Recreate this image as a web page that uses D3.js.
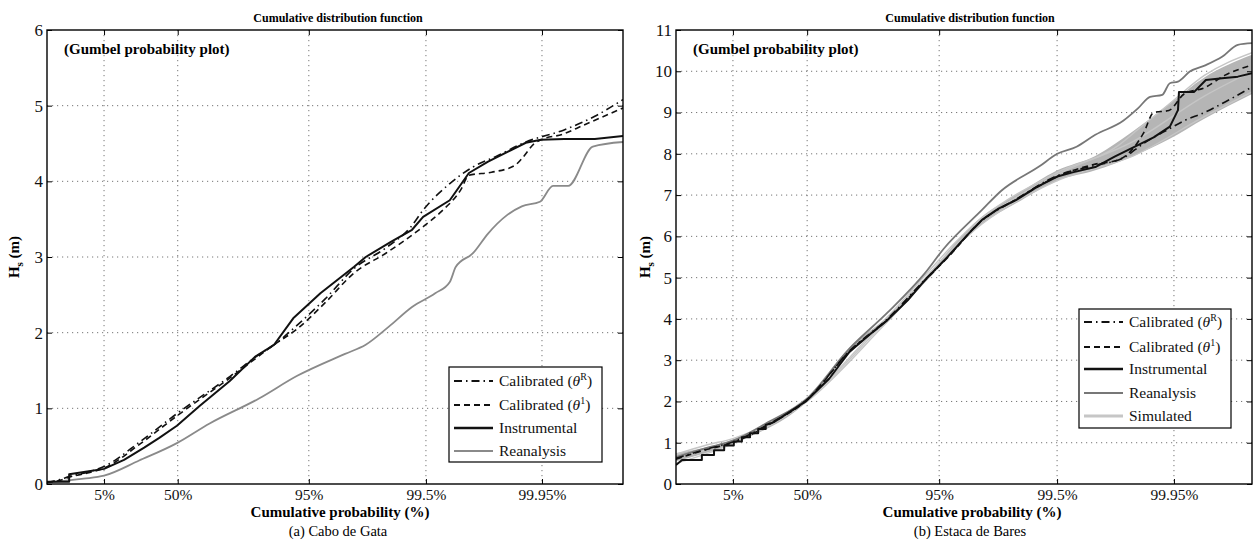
<!DOCTYPE html>
<html><head><meta charset="utf-8">
<script src="https://cdn.jsdelivr.net/npm/d3@7"></script>
<style>
html,body{margin:0;padding:0;background:#fff;}
svg{display:block;font-family:"Liberation Serif","Times New Roman",serif;}
svg text{font-family:"Liberation Serif","Times New Roman",serif;}
</style></head>
<body><svg id="chart" width="1253" height="546"></svg>
<script>
// ---------- tick definitions ----------
const xTickProbs = [0.05, 0.5, 0.95, 0.995, 0.9995];
const xTickLabels = ["5%", "50%", "95%", "99.5%", "99.95%"];
const leftYTicks = [0, 1, 2, 3, 4, 5, 6];
const rightYTicks = [0, 1, 2, 3, 4, 5, 6, 7, 8, 9, 10, 11];

// ---------- data: [Gumbel reduced variate, Hs (m)] ----------
// (a) Cabo de Gata
const leftCalR = [[-2.23,0.02],[-1.97,0.06],[-1.79,0.1],[-1.4,0.16],[-1.097,0.23],[-0.38,0.56],[0.35,0.93],[1.4,1.42],[2.0,1.72],[2.28,1.84],[2.74,2.1],[3.3,2.45],[3.87,2.85],[4.5,3.12],[5.0,3.4],[5.24,3.62],[5.77,3.97],[6.23,4.19],[6.69,4.33],[7.28,4.52],[8.04,4.68],[8.65,4.86],[9.21,5.08]];
const leftCal1 = [[-2.23,0.02],[-1.97,0.05],[-1.79,0.09],[-1.4,0.15],[-1.097,0.21],[-0.38,0.53],[0.35,0.9],[1.4,1.4],[2.28,1.84],[2.74,2.05],[3.3,2.4],[3.87,2.79],[4.5,3.05],[5.2,3.38],[5.6,3.6],[5.99,3.89],[6.15,4.08],[6.6,4.12],[7.06,4.21],[7.2,4.3],[7.45,4.5],[7.58,4.55],[8.0,4.62],[8.42,4.74],[8.8,4.85],[9.21,4.97]];
const leftInstr = [[-2.23,0.03],[-1.79,0.03],[-1.79,0.13],[-1.4,0.17],[-1.097,0.2],[-0.7,0.32],[-0.3,0.48],[0.0,0.61],[0.35,0.77],[0.8,1.03],[1.4,1.36],[1.9,1.68],[2.28,1.84],[2.66,2.19],[3.2,2.52],[3.87,2.87],[4.1,3.0],[4.6,3.2],[5.02,3.36],[5.24,3.53],[5.77,3.75],[6.15,4.11],[6.53,4.26],[6.98,4.41],[7.28,4.51],[7.58,4.55],[8.04,4.56],[8.65,4.56],[9.21,4.6]];
const leftReanalysis = [[-2.23,0.02],[-1.5,0.07],[-1.097,0.11],[-0.4,0.31],[0.35,0.54],[1.0,0.8],[1.98,1.13],[2.74,1.43],[3.69,1.72],[4.1,1.84],[4.56,2.08],[5.02,2.34],[5.48,2.52],[5.77,2.67],[5.89,2.87],[6.23,3.05],[6.53,3.31],[6.9,3.55],[7.2,3.67],[7.56,3.73],[7.82,3.94],[8.12,3.94],[8.61,4.46],[9.21,4.52]];

// (b) Estaca de Bares
const rightCalR = [[-2.22,0.62],[-1.6,0.85],[-1.097,1.02],[-0.4,1.45],[0.367,2.05],[1.2,3.22],[1.95,4.0],[2.69,4.95],[3.14,5.5],[3.815,6.38],[4.485,6.9],[5.3,7.47],[6.05,7.72],[6.6,7.9],[7.0,8.25],[7.5,8.6],[7.8,8.8],[8.2,9.0],[8.6,9.25],[9.14,9.62]];
const rightCal1 = [[-2.22,0.6],[-1.6,0.84],[-1.097,1.0],[-0.4,1.43],[0.367,2.04],[1.2,3.21],[1.95,3.98],[2.69,4.93],[3.14,5.49],[3.815,6.39],[4.485,6.89],[5.3,7.45],[6.05,7.75],[6.5,7.85],[7.0,8.5],[7.2,9.0],[7.5,9.05],[7.8,9.45],[8.2,9.6],[8.6,9.9],[9.14,10.15]];
const rightInstr = [[-2.22,0.46],[-2.1,0.58],[-1.71,0.58],[-1.71,0.7],[-1.47,0.7],[-1.47,0.82],[-1.27,0.82],[-1.27,0.93],[-1.08,0.93],[-1.08,1.03],[-0.92,1.03],[-0.92,1.13],[-0.76,1.13],[-0.76,1.23],[-0.6,1.23],[-0.6,1.33],[-0.45,1.33],[-0.45,1.43],[-0.29,1.5],[0.34,2.0],[0.8,2.55],[1.2,3.2],[1.6,3.62],[1.95,3.97],[2.35,4.45],[2.69,4.94],[3.14,5.51],[3.5,6.0],[3.815,6.4],[4.15,6.68],[4.485,6.88],[4.9,7.2],[5.3,7.45],[5.6,7.55],[6.05,7.68],[6.43,7.93],[7.2,8.4],[7.52,8.66],[7.68,9.06],[7.7,9.5],[8.0,9.5],[8.23,9.79],[8.55,9.83],[8.86,9.87],[9.14,9.95]];
const rightReanalysis = [[-2.22,0.65],[-1.6,0.88],[-1.097,1.05],[-0.4,1.5],[0.367,2.07],[1.2,3.28],[1.95,4.15],[2.69,5.11],[3.06,5.7],[3.815,6.64],[4.19,7.1],[4.94,7.69],[5.3,8.0],[5.68,8.17],[6.05,8.46],[6.6,8.8],[6.89,9.1],[7.13,9.38],[7.37,9.43],[7.52,9.71],[7.68,9.75],[7.92,10.0],[8.23,10.15],[8.55,10.35],[8.86,10.64],[9.14,10.68]];
const rightSimA = [[-2.22,0.72],[-1.6,0.95],[-1.097,1.1],[0.367,2.08],[1.95,4.05],[3.815,6.45],[5.3,7.55],[6.5,8.2],[6.9,8.6],[7.5,9.2],[8.2,9.9],[9.14,10.45]];
const rightSimB = [[-2.22,0.5],[-1.097,0.98],[0.367,2.0],[1.95,3.93],[3.815,6.3],[5.3,7.35],[6.8,7.95],[8.2,8.9],[9.14,9.5]];
const rightSimC = [[-2.22,0.64],[-1.097,1.04],[0.367,2.04],[1.95,3.99],[3.815,6.37],[5.3,7.5],[6.8,8.3],[8.2,9.4],[9.14,10.0]];
const bandU    = [-2.22,-1.097,0.367,1.2,1.95,2.69,3.815,4.485,5.3,6.05,6.8,7.5,8.2,9.14];
const bandLow  = [0.55,0.98,2.0,3.17,3.93,4.88,6.3,6.8,7.35,7.6,7.95,8.35,8.85,9.45];
const bandHigh = [0.75,1.08,2.1,3.3,4.05,5.0,6.48,7.0,7.6,7.95,8.55,9.2,9.85,10.4];

// ---------- helpers ----------
const gumbel = p => -Math.log(-Math.log(p));
const svg = d3.select("#chart");
svg.append("rect").attr("width",1253).attr("height",546).attr("fill","#fff");
const FONT = '"Liberation Serif","Times New Roman",serif';

const STY = {
  calR:  {stroke:"#111", width:1.6, dash:"8,4,1.5,4"},
  cal1:  {stroke:"#111", width:1.6, dash:"6,4"},
  instr: {stroke:"#111", width:2.0, dash:null},
  reanL: {stroke:"#8a8a8a", width:1.8, dash:null},
  reanR: {stroke:"#777", width:1.8, dash:null},
  sim:   {stroke:"#c6c6c6", width:1.4, dash:null}
};

function panel(cfg) {
  const x = d3.scaleLinear().domain(cfg.uDomain).range([cfg.x0, cfg.x1]);
  const y = d3.scaleLinear().domain([0, cfg.yMax]).range([484, 30]);
  const g = svg.append("g");
  const clipId = "clip" + cfg.id;
  svg.append("clipPath").attr("id", clipId).append("rect")
    .attr("x", cfg.x0).attr("y", 30).attr("width", cfg.x1 - cfg.x0).attr("height", 454);

  // grid
  const grid = g.append("g").attr("stroke","#666").attr("stroke-width",0.9).attr("stroke-dasharray","1.2,3.8");
  cfg.yTicks.slice(1, -1).forEach(v => grid.append("line").attr("x1",cfg.x0).attr("x2",cfg.x1).attr("y1",y(v)).attr("y2",y(v)));
  xTickProbs.forEach(p => grid.append("line").attr("x1",x(gumbel(p))).attr("x2",x(gumbel(p))).attr("y1",30).attr("y2",484));

  const plot = g.append("g").attr("clip-path", `url(#${clipId})`);
  const smooth = d3.line().x(d => x(d[0])).y(d => y(d[1])).curve(d3.curveMonotoneX);
  const linear = d3.line().x(d => x(d[0])).y(d => y(d[1]));

  if (cfg.band) {
    const area = d3.area().x(d => x(d.u)).y0(d => y(d.lo)).y1(d => y(d.hi)).curve(d3.curveMonotoneX);
    const bd = bandU.map((u,i) => ({u, lo: bandLow[i], hi: bandHigh[i]}));
    plot.append("path").datum(bd).attr("d", area).attr("fill","#b5b5b5");
  }
  cfg.series.forEach(s => {
    const st = STY[s.style];
    plot.append("path").datum(s.data).attr("d", s.step ? linear : smooth)
      .attr("fill","none").attr("stroke", st.stroke).attr("stroke-width", st.width)
      .attr("stroke-dasharray", st.dash).attr("stroke-linejoin","round");
  });

  // frame
  g.append("rect").attr("x",cfg.x0).attr("y",30).attr("width",cfg.x1-cfg.x0).attr("height",454)
    .attr("fill","none").attr("stroke","#000").attr("stroke-width",1.4);

  // axes via d3 axis (inner ticks)
  const xAxis = d3.axisBottom(x).tickValues(xTickProbs.map(gumbel))
    .tickFormat((d,i) => xTickLabels[i]).tickSizeInner(-5).tickSizeOuter(0).tickPadding(5);
  const gx = g.append("g").attr("transform","translate(0,484)").call(xAxis);
  gx.attr("font-family", FONT);
  gx.select(".domain").remove();
  gx.selectAll("text").attr("font-family",FONT).attr("font-size",15.5).attr("fill","#111");
  gx.selectAll("line").attr("stroke","#000");
  const xTop = d3.axisTop(x).tickValues(xTickProbs.map(gumbel)).tickFormat("").tickSizeInner(-5).tickSizeOuter(0);
  const gxt = g.append("g").attr("transform","translate(0,30)").call(xTop);
  gxt.select(".domain").remove();

  const yAxis = d3.axisLeft(y).tickValues(cfg.yTicks).tickFormat(d3.format("d")).tickSizeInner(-5).tickSizeOuter(0).tickPadding(4);
  const gy = g.append("g").attr("transform",`translate(${cfg.x0},0)`).call(yAxis);
  gy.attr("font-family", FONT);
  gy.select(".domain").remove();
  gy.selectAll("text").attr("font-family",FONT).attr("font-size",17).attr("fill","#111");
  const yRight = d3.axisRight(y).tickValues(cfg.yTicks).tickFormat("").tickSizeInner(-5).tickSizeOuter(0);
  const gyr = g.append("g").attr("transform",`translate(${cfg.x1},0)`).call(yRight);
  gyr.select(".domain").remove();

  // texts
  g.append("text").attr("x",cfg.titleX).attr("y",22).attr("text-anchor","middle")
    .attr("font-weight","bold").attr("font-size",12).attr("font-family",FONT).text("Cumulative distribution function");
  g.append("text").attr("x",cfg.x0+17).attr("y",54)
    .attr("font-weight","bold").attr("font-size",15).attr("font-family",FONT).text("(Gumbel probability plot)");
  g.append("text").attr("x",cfg.titleX+2).attr("y",517).attr("text-anchor","middle")
    .attr("font-weight","bold").attr("font-size",15).attr("font-family",FONT).text("Cumulative probability (%)");
  g.append("text").attr("x",cfg.titleX).attr("y",536).attr("text-anchor","middle")
    .attr("font-size",14.5).attr("font-family",FONT).text(cfg.caption);
  const yl = g.append("text").attr("transform",`translate(${cfg.yLabelX},257) rotate(-90)`)
    .attr("text-anchor","middle").attr("font-weight","bold").attr("font-size",15).attr("font-family",FONT);
  yl.append("tspan").text("H");
  yl.append("tspan").attr("font-size",11).attr("dy",4).text("s");
  yl.append("tspan").attr("dy",-4).text(" (m)");

  // legend
  const L = cfg.legend;
  const lg = g.append("g");
  lg.append("rect").attr("x",L.x).attr("y",L.y).attr("width",L.w).attr("height",L.h)
    .attr("fill","#fff").attr("stroke","#000").attr("stroke-width",1.2);
  L.items.forEach((it, i) => {
    const yy = L.rows[i];
    const st = STY[it.style];
    lg.append("line").attr("x1",L.x+5).attr("x2",L.x+44).attr("y1",yy).attr("y2",yy)
      .attr("stroke",st.stroke).attr("stroke-width", it.style==="sim"?3:st.width+0.4).attr("stroke-dasharray",st.dash);
    const t = lg.append("text").attr("x",L.x+50).attr("y",yy+5).attr("font-size",15.5).attr("font-family",FONT).attr("fill","#111");
    if (it.sup) {
      t.append("tspan").text("Calibrated (");
      t.append("tspan").attr("font-style","italic").text("\u03B8");
      t.append("tspan").attr("font-size",10).attr("dy",-6).text(it.sup);
      t.append("tspan").attr("dy",6).text(")");
    } else t.text(it.label);
  });
}

panel({
  id:"L", x0:47, x1:623, uDomain:[-2.23, 9.21], yMax:6, yTicks:leftYTicks,
  titleX:338, caption:"(a) Cabo de Gata", yLabelX:19,
  series:[
    {data:leftReanalysis, style:"reanL"},
    {data:leftInstr, style:"instr", step:true},
    {data:leftCal1, style:"cal1"},
    {data:leftCalR, style:"calR"}
  ],
  legend:{x:449, y:367, w:153, h:95, rows:[381,405,428,451],
    items:[{style:"calR", sup:"R"},{style:"cal1", sup:"1"},{style:"instr", label:"Instrumental"},{style:"reanL", label:"Reanalysis"}]}
});

panel({
  id:"R", x0:676, x1:1252, uDomain:[-2.22, 9.14], yMax:11, yTicks:rightYTicks,
  titleX:970, caption:"(b) Estaca de Bares", yLabelX:650, band:true,
  series:[
    {data:rightSimB, style:"sim"},
    {data:rightSimC, style:"sim"},
    {data:rightSimA, style:"sim"},
    {data:rightReanalysis, style:"reanR"},
    {data:rightInstr, style:"instr", step:true},
    {data:rightCal1, style:"cal1"},
    {data:rightCalR, style:"calR"}
  ],
  legend:{x:1079, y:309, w:152, h:119, rows:[322,347,369,393,416],
    items:[{style:"calR", sup:"R"},{style:"cal1", sup:"1"},{style:"instr", label:"Instrumental"},{style:"reanR", label:"Reanalysis"},{style:"sim", label:"Simulated"}]}
});
</script></body></html>
